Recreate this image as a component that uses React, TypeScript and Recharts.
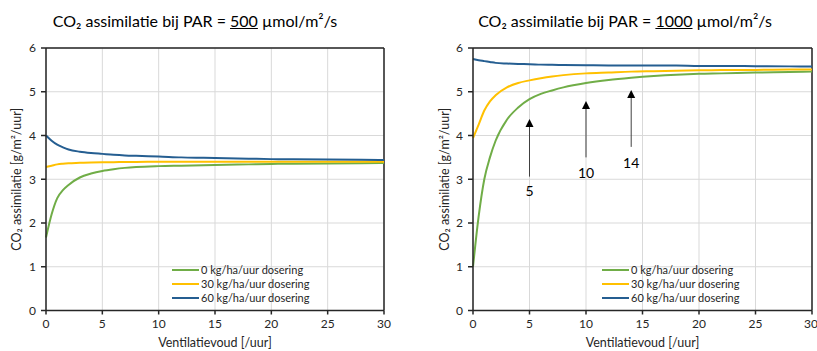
import React from 'react'
import { LineChart, Line, XAxis, YAxis, CartesianGrid, ReferenceLine, ReferenceDot, Legend } from 'recharts'

// ventilation rate [/uur]
const ventilatie = [0, 0.5, 1, 1.5, 2, 3, 4, 5, 6, 7, 8, 10, 12, 14, 16, 18, 20, 22, 25, 28, 30]

// PAR = 500
const par500_0 = [1.67, 2.2, 2.57, 2.75, 2.87, 3.04, 3.13, 3.19, 3.23, 3.26, 3.28, 3.3, 3.31, 3.32, 3.33, 3.34, 3.35, 3.355, 3.36, 3.365, 3.37]
const par500_30 = [3.28, 3.31, 3.34, 3.355, 3.365, 3.375, 3.385, 3.39, 3.39, 3.395, 3.395, 3.4, 3.4, 3.4, 3.4, 3.4, 3.4, 3.4, 3.4, 3.4, 3.4]
const par500_60 = [4.0, 3.88, 3.79, 3.73, 3.68, 3.63, 3.6, 3.58, 3.56, 3.545, 3.535, 3.52, 3.5, 3.49, 3.48, 3.47, 3.46, 3.455, 3.45, 3.445, 3.44]

// PAR = 1000
const par1000_0 = [1.0, 2.15, 3.0, 3.5, 3.88, 4.36, 4.64, 4.83, 4.95, 5.03, 5.1, 5.2, 5.27, 5.32, 5.36, 5.39, 5.41, 5.42, 5.44, 5.45, 5.46]
const par1000_30 = [3.94, 4.25, 4.57, 4.78, 4.92, 5.1, 5.2, 5.26, 5.31, 5.35, 5.38, 5.42, 5.44, 5.46, 5.47, 5.48, 5.49, 5.5, 5.5, 5.51, 5.51]
const par1000_60 = [5.75, 5.72, 5.7, 5.68, 5.66, 5.645, 5.635, 5.63, 5.62, 5.615, 5.61, 5.605, 5.6, 5.6, 5.6, 5.6, 5.59, 5.59, 5.585, 5.58, 5.58]

const xTicks = [0, 5, 10, 15, 20, 25, 30]
const yTicks = [0, 1, 2, 3, 4, 5, 6]

const seriesNames = ['0 kg/ha/uur dosering', '30 kg/ha/uur dosering', '60 kg/ha/uur dosering']
const seriesColors = ['#70ad47', '#ffc000', '#255e91']

// arrows on the right chart: x, bottom, tip, label y
const arrowX = [5, 10, 14]
const arrowBottom = [3.06, 3.5, 3.74]
const arrowTip = [4.38, 4.79, 5.04]
const arrowLabelY = [2.72, 3.15, 3.38]

const font = 'Lato, "Open Sans", sans-serif'
const axisColor = '#262626'

const buildRows = (a: number[], b: number[], c: number[]) =>
  ventilatie.map((x, i) => ({ x, s0: a[i], s30: b[i], s60: c[i] }))

const rows500 = buildRows(par500_0, par500_30, par500_60)
const rows1000 = buildRows(par1000_0, par1000_30, par1000_60)

const LegendBox = () => (
  <div style={{ fontFamily: font, fontSize: 11, lineHeight: '14px', color: '#262626' }}>
    {seriesNames.map((name, i) => (
      <div key={name} style={{ display: 'flex', alignItems: 'center', whiteSpace: 'nowrap' }}>
        <span style={{ display: 'inline-block', width: 27, height: 2, background: seriesColors[i], marginRight: 2 }} />
        <span>{name}</span>
      </div>
    ))}
  </div>
)

const Arrow = (props: any) => {
  const { x1, y1, x2, y2 } = props
  return (
    <g>
      <line x1={x1} y1={y1} x2={x2} y2={y2 + 6} stroke="#404040" strokeWidth={1} />
      <polygon points={`${x2},${y2} ${x2 - 4},${y2 + 8} ${x2 + 4},${y2 + 8}`} fill="#000" />
    </g>
  )
}

interface PanelProps {
  rows: any[]
  left: number
  marginLeft: number
  yAxisWidth: number
  labelOffset: number
  marginRight: number
  legendLeft: number
  arrows?: boolean
}

function Panel({ rows, left, marginLeft, yAxisWidth, labelOffset, marginRight, legendLeft, arrows }: PanelProps) {
  return (
    <div style={{ position: 'absolute', left, top: 0 }}>
      <LineChart
        width={408}
        height={351}
        data={rows}
        margin={{ top: 48, right: marginRight, left: marginLeft, bottom: 0 }}
        style={{ fontFamily: font }}
      >
        <CartesianGrid stroke="#d9d9d9" strokeWidth={1} />
        <XAxis
          dataKey="x"
          type="number"
          domain={[0, 30]}
          ticks={xTicks}
          height={40.5}
          tickSize={4}
          tickMargin={5}
          stroke={axisColor}
          strokeWidth={1.5}
          tick={{ fill: '#262626', fontSize: 12 }}
          label={{ value: 'Ventilatievoud [/uur]', position: 'insideBottom', offset: 4, fill: '#262626', fontSize: 12.5 }}
        />
        <YAxis
          type="number"
          domain={[0, 6]}
          ticks={yTicks}
          width={yAxisWidth}
          tickSize={5}
          tickMargin={5}
          stroke={axisColor}
          strokeWidth={1.5}
          tick={{ fill: '#262626', fontSize: 12 }}
          label={{
            value: 'CO₂ assimilatie [g/m²/uur]',
            angle: -90,
            position: 'insideLeft',
            offset: labelOffset,
            fill: '#262626',
            fontSize: 12.5,
            style: { textAnchor: 'middle' },
          }}
        />
        <ReferenceLine y={6} stroke={axisColor} strokeWidth={1.5} />
        <ReferenceLine x={30} stroke={axisColor} strokeWidth={1.5} />
        <Line type="monotone" dataKey="s0" name={seriesNames[0]} stroke={seriesColors[0]} strokeWidth={2} dot={false} isAnimationActive={false} />
        <Line type="monotone" dataKey="s30" name={seriesNames[1]} stroke={seriesColors[1]} strokeWidth={2} dot={false} isAnimationActive={false} />
        <Line type="monotone" dataKey="s60" name={seriesNames[2]} stroke={seriesColors[2]} strokeWidth={2} dot={false} isAnimationActive={false} />
        {arrows &&
          arrowX.map((ax, i) => (
            <ReferenceLine
              key={'a' + ax}
              segment={[
                { x: ax, y: arrowBottom[i] },
                { x: ax, y: arrowTip[i] },
              ]}
              shape={Arrow}
            />
          ))}
        {arrows &&
          arrowX.map((ax, i) => (
            <ReferenceDot
              key={'l' + ax}
              x={ax}
              y={arrowLabelY[i]}
              r={0}
              fill="none"
              stroke="none"
              label={{ value: String(ax), position: 'center', fill: '#000', fontSize: 14 }}
            />
          ))}
        <Legend
          layout="vertical"
          align="center"
          verticalAlign="middle"
          content={LegendBox}
          wrapperStyle={{ left: legendLeft, top: 263, width: 'auto' }}
        />
      </LineChart>
    </div>
  )
}

const Title = ({ center, value }: { center: number; value: string }) => (
  <div
    style={{
      position: 'absolute',
      top: 11,
      left: center - 200,
      width: 400,
      textAlign: 'center',
      fontFamily: font,
      fontSize: 16,
      color: '#000',
      whiteSpace: 'nowrap',
    }}
  >
    CO₂ assimilatie bij PAR = <span style={{ textDecoration: 'underline' }}>{value}</span> µmol/m²/s
  </div>
)

export default function App() {
  return (
    <div style={{ position: 'absolute', left: 0, top: 0, width: 817, height: 351, background: '#fff', overflow: 'hidden' }}>
      <Panel rows={rows500} left={0} marginLeft={12} yAxisWidth={34} labelOffset={5} marginRight={24} legendLeft={172} />
      <Panel rows={rows1000} left={409} marginLeft={12} yAxisWidth={52} labelOffset={24} marginRight={5} legendLeft={193} arrows />
      <Title center={195} value="500" />
      <Title center={625} value="1000" />
    </div>
  )
}
